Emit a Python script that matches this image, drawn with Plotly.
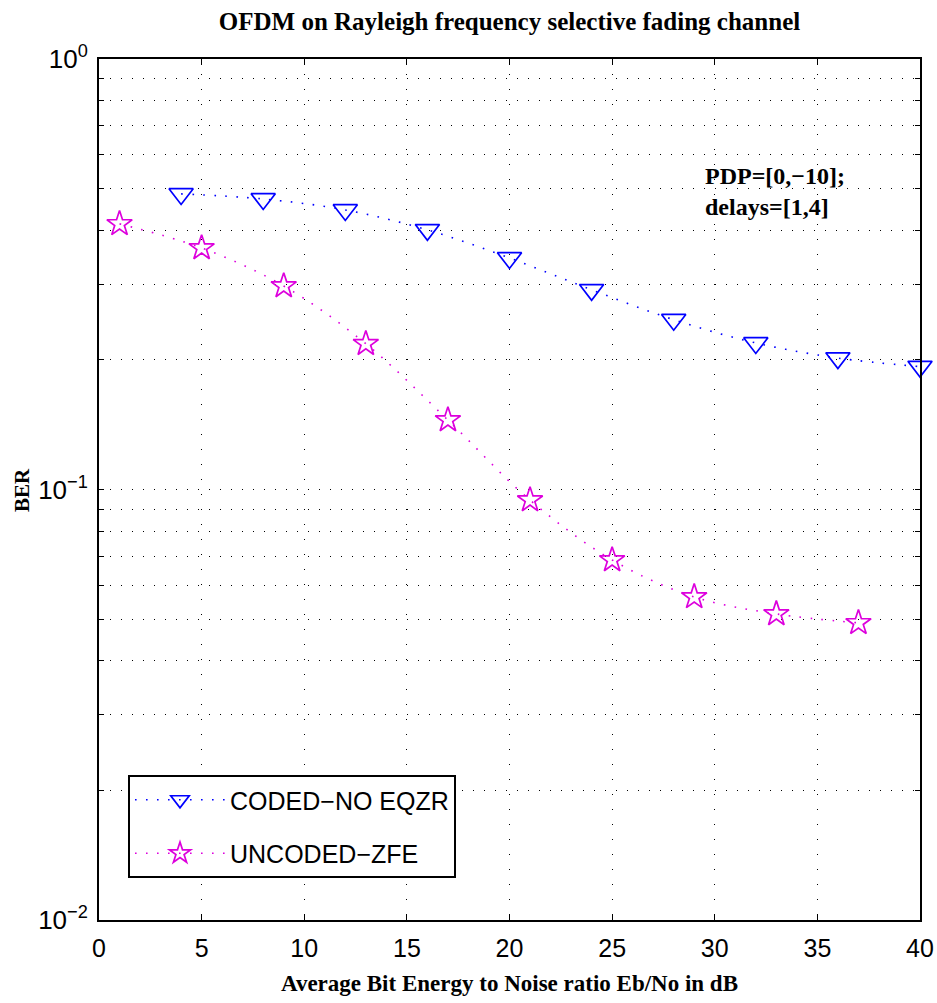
import plotly.graph_objects as go

# ---- data ----
coded_x = [4, 8, 12, 16, 20, 24, 28, 32, 36, 40]
coded_ber = [0.486, 0.473, 0.446, 0.401, 0.345, 0.291, 0.248, 0.219, 0.202, 0.193]
uncoded_x = [1, 5, 9, 13, 17, 21, 25, 29, 33, 37]
uncoded_ber = [0.414, 0.364, 0.297, 0.218, 0.145, 0.0945, 0.0686, 0.0563, 0.0514, 0.0490]

x_tick_vals = [0, 5, 10, 15, 20, 25, 30, 35, 40]
x_tick_text = ["0", "5", "10", "15", "20", "25", "30", "35", "40"]
y_major_vals = [0.01, 0.1, 1]
y_major_text = ["10<sup>−2</sup>", "10<sup>−1</sup>", "10<sup>0</sup>"]
y_minor_mult = [2, 3, 4, 5, 6, 7, 8, 9]

title_text = "OFDM on Rayleigh frequency selective fading channel"
x_label = "Average Bit Energy to Noise ratio Eb/No in dB"
y_label = "BER"
note_text = "PDP=[0,−10];<br>delays=[1,4]"
series_names = ["CODED−NO EQZR", "UNCODED−ZFE"]

# build tick lists
y_tick_vals = []
y_tick_text = []
for i, base in enumerate([0.01, 0.1]):
    y_tick_vals.append(base)
    y_tick_text.append(y_major_text[i])
    for m in y_minor_mult:
        y_tick_vals.append(base * m)
        y_tick_text.append("")
y_tick_vals.append(1)
y_tick_text.append(y_major_text[2])

BLUE = "#0000ff"
MAG = "#dd00dd"
SERIF = "Liberation Serif"
SANS = "Liberation Sans"

fig = go.Figure()
fig.add_trace(go.Scatter(
    x=coded_x, y=coded_ber, name=series_names[0], mode="lines+markers",
    line=dict(color=BLUE, width=1.6, dash="1.6px,9.4px", shape="spline", smoothing=1),
    marker=dict(symbol="triangle-down-open", size=21, color=BLUE, line=dict(width=1.7, color=BLUE)),
    cliponaxis=False, legendgroup="a",
))
fig.add_trace(go.Scatter(
    x=uncoded_x, y=uncoded_ber, name=series_names[1], mode="lines+markers",
    line=dict(color=MAG, width=1.6, dash="1.6px,9.4px", shape="spline", smoothing=1),
    marker=dict(symbol="star-open", size=19, color=MAG, line=dict(width=1.7, color=MAG)),
    cliponaxis=False, legendgroup="b",
))

fig.update_layout(
    width=937, height=1003,
    margin=dict(l=99, r=17, t=59, b=83, autoexpand=False),
    paper_bgcolor="white", plot_bgcolor="white",
    showlegend=True,
    title=dict(text="<b>" + title_text + "</b>", x=0.5, xref="paper", xanchor="center",
               y=1 - 21 / 1003, yref="container", yanchor="middle",
               font=dict(family=SERIF, size=25, color="black")),
    legend=dict(x=(128 - 99) / 821, y=(920 - 775) / 861, xanchor="left", yanchor="top",
                bgcolor="white", bordercolor="black", borderwidth=2,
                font=dict(family=SANS, size=25, color="black"),
                itemwidth=90, tracegroupgap=18, traceorder="grouped"),
)

fig.update_xaxes(
    range=[0, 40], tickvals=x_tick_vals, ticktext=x_tick_text, automargin=False,
    showline=True, linecolor="black", linewidth=2, mirror="ticks",
    ticks="inside", ticklen=6, tickcolor="black", tickwidth=1,
    showgrid=True, gridcolor="black", gridwidth=1, griddash="1px,14px",
    zeroline=False, ticklabelstandoff=5,
    tickfont=dict(family=SANS, size=25, color="black"),
)
fig.update_yaxes(
    type="log", range=[-2, 0], tickvals=y_tick_vals, ticktext=y_tick_text, automargin=False,
    showline=True, linecolor="black", linewidth=2, mirror="ticks",
    ticks="inside", ticklen=5, tickcolor="black", tickwidth=1,
    showgrid=True, gridcolor="black", gridwidth=1, griddash="1px,10px",
    zeroline=False, ticklabelstandoff=4,
    tickfont=dict(family=SANS, size=26, color="black"),
)

fig.add_annotation(text="<b>" + x_label + "</b>", xref="paper", yref="paper",
                   x=0.5, y=-(983 - 920) / 861, xanchor="center", yanchor="middle",
                   showarrow=False, font=dict(family=SERIF, size=23, color="black"))
fig.add_annotation(text="<b>" + y_label + "</b>", xref="paper", yref="paper",
                   x=(22 - 99) / 821, y=(920 - 490) / 861, xanchor="center", yanchor="middle",
                   textangle=-90, showarrow=False, font=dict(family=SERIF, size=21, color="black"))
fig.add_annotation(text="<b>" + note_text + "</b>", xref="x", yref="paper",
                   x=(703 - 99) / 20.525, y=(920 - 192) / 861, xanchor="left", yanchor="middle",
                   align="left", showarrow=False, font=dict(family=SERIF, size=24, color="black"))

fig.write_html("out.html")
